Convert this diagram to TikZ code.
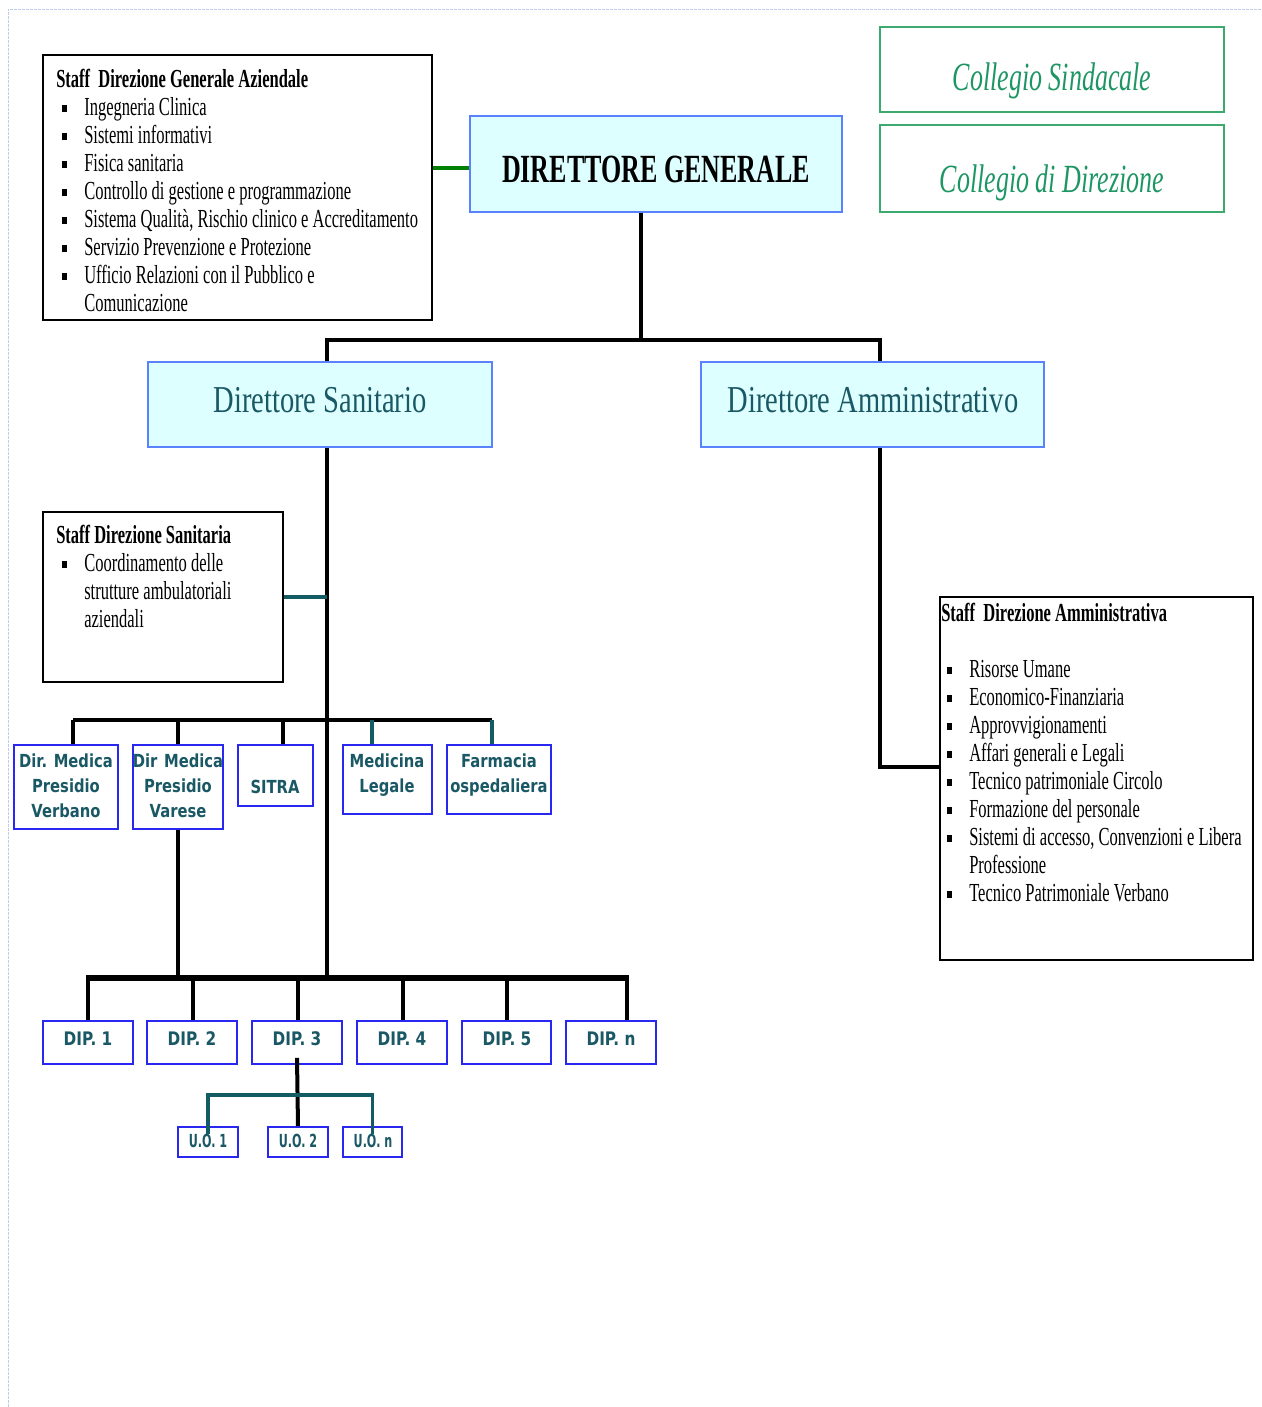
\documentclass[tikz,border=0pt]{standalone}
\usepackage{fontspec}
\setmainfont{Liberation Serif}
\newfontfamily\tms[FakeStretch=0.65]{Liberation Serif}
\newfontfamily\tmss[FakeStretch=0.635]{Liberation Serif}
\newfontfamily\tmsb[FakeStretch=0.75]{Liberation Serif}
\newfontfamily\vrd[FakeStretch=0.82]{DejaVu Sans}
\newfontfamily\vrdn[FakeStretch=0.62]{DejaVu Sans}
\usetikzlibrary{fit,calc}
\definecolor{bboxc}{RGB}{90,130,255}
\definecolor{sboxc}{RGB}{40,40,240}
\definecolor{cyanfill}{RGB}{222,255,255}
\definecolor{tealtxt}{RGB}{25,88,100}
\definecolor{tealline}{RGB}{20,92,100}
\definecolor{gborder}{RGB}{60,170,110}
\definecolor{gtext}{RGB}{30,150,100}
\definecolor{gline}{RGB}{0,128,0}
\definecolor{framec}{RGB}{190,205,235}
\newcommand\nsp{\frenchspacing\spaceskip=0pt\xspaceskip=0pt\relax}
\newcommand\bitem[1]{\par\hangindent=21pt\hangafter=1\noindent\makebox[21pt][l]{\hspace{4.5pt}\rule[2.2pt]{3.5pt}{5.5pt}}#1}
\tikzset{
 blk/.style={line width=3pt, black},
 blkthick/.style={line width=4.5pt, black},
 tealc/.style={line width=2.4pt, tealline},
 gconn/.style={line width=3pt, gline},
 staffbox/.style={draw=black, line width=1.2pt, inner sep=0pt, fill=white},
 cyanbox/.style={draw=bboxc, line width=1.5pt, fill=cyanfill, inner sep=0pt},
 greenbox/.style={draw=gborder, line width=1.5pt, inner sep=0pt},
 bluebox/.style={draw=sboxc, line width=1.3pt, fill=white, inner sep=0pt},
 stafftext/.style={anchor=base west, inner sep=0pt, text width=330pt, align=left, font=\fontsize{19.5}{21}\tmss},
 smalltxt/.style={anchor=base, inner sep=0pt, text width=100pt, align=center, font=\fontsize{13.5}{19}\vrd\bfseries, text=tealtxt},
 diptxt/.style={anchor=base, inner sep=0pt, font=\fontsize{14}{16}\vrd\bfseries, text=tealtxt},
 uotxt/.style={anchor=base, inner sep=0pt, font=\fontsize{13.5}{16}\vrdn\bfseries, text=tealtxt},
}
\begin{document}
\begin{tikzpicture}[x=0.75pt, y=-0.75pt]
\useasboundingbox (0,0) rectangle (1261,1407);
\draw[framec, line width=0.6pt, dash pattern=on 2pt off 1pt] (8,1407) -- (8,9) -- (1261,9);

% boxes
\node[staffbox, fit={(43,55) (432,320)}] (sdg) {};
\node[cyanbox, fit={(470,116) (842,212)}] (dg) {};
\node[greenbox, fit={(880,27) (1224,112)}] (cs) {};
\node[greenbox, fit={(880,125) (1224,212)}] (cd) {};
\node[cyanbox, fit={(148,362) (492,447)}] (ds) {};
\node[cyanbox, fit={(701,362) (1044,447)}] (da) {};
\node[staffbox, fit={(43,512) (283,682)}] (sds) {};
\node[staffbox, fit={(940,597) (1253,960)}] (sda) {};
\node[bluebox, fit={(14,745) (118,829)}] (verb) {};
\node[bluebox, fit={(133,745) (223,829)}] (vare) {};
\node[bluebox, fit={(238,745) (313,806)}] (sitra) {};
\node[bluebox, fit={(343,745) (432,814)}] (medl) {};
\node[bluebox, fit={(447,745) (551,814)}] (farm) {};
\node[bluebox, fit={(43,1021) (133,1064)}] (dip1) {};
\node[bluebox, fit={(147,1021) (237,1064)}] (dip2) {};
\node[bluebox, fit={(252,1021) (342,1064)}] (dip3) {};
\node[bluebox, fit={(357,1021) (447,1064)}] (dip4) {};
\node[bluebox, fit={(462,1021) (551,1064)}] (dip5) {};
\node[bluebox, fit={(566,1021) (656,1064)}] (dipn) {};
\node[bluebox, fit={(178,1127) (238,1157)}] (uo1) {};
\node[bluebox, fit={(268,1127) (328,1157)}] (uo2) {};
\node[bluebox, fit={(343,1127) (402,1157)}] (uon) {};

% texts
\node[stafftext] (sdgt) at (56,87) {\nsp\textbf{Staff\ \ Direzione Generale Aziendale}
\bitem{Ingegneria Clinica}
\bitem{Sistemi informativi}
\bitem{Fisica sanitaria}
\bitem{Controllo di gestione e programmazione}
\bitem{Sistema Qualità, Rischio clinico e Accreditamento}
\bitem{Servizio Prevenzione e Protezione}
\bitem{Ufficio Relazioni con il Pubblico e\newline Comunicazione}\par};
\node[anchor=base, inner sep=0pt, font=\fontsize{30}{36}\tms\bfseries] (dgt) at (656,182) {DIRETTORE GENERALE};
\node[anchor=base, inner sep=0pt, font=\fontsize{30}{36}\tms\itshape, text=gtext] (cst) at (1052,90) {Collegio Sindacale};
\node[anchor=base, inner sep=0pt, font=\fontsize{30}{36}\tms\itshape, text=gtext] (cdt) at (1052,192) {Collegio di Direzione};
\node[anchor=base, inner sep=0pt, font=\fontsize{28.5}{34}\tmsb, text=tealtxt] (dst) at (320,412) {Direttore Sanitario};
\node[anchor=base, inner sep=0pt, font=\fontsize{28.5}{34}\tmsb, text=tealtxt] (dat) at (873,412) {Direttore Amministrativo};
\node[stafftext, text width=170pt] (sdst) at (56,543) {\nsp\textbf{Staff Direzione Sanitaria}
\bitem{Coordinamento delle\newline strutture ambulatoriali\newline aziendali}\par};
\node[stafftext, text width=240pt] (sdat) at (941,621) {\nsp\textbf{Staff\ \ Direzione Amministrativa}\par\mbox{}
\bitem{Risorse Umane}
\bitem{Economico-Finanziaria}
\bitem{Approvvigionamenti}
\bitem{Affari generali e Legali}
\bitem{Tecnico patrimoniale Circolo}
\bitem{Formazione del personale}
\bitem{Sistemi di accesso, Convenzioni e Libera\newline Professione}
\bitem{Tecnico Patrimoniale Verbano}\par};
\node[smalltxt] (verbt) at (66,767) {\nsp Dir. Medica\\Presidio\\Verbano};
\node[smalltxt] (varet) at (178,767) {\nsp Dir Medica\\Presidio\\Varese};
\node[smalltxt] (sitrat) at (275,793) {SITRA};
\node[smalltxt] (medlt) at (387,767) {Medicina\\Legale};
\node[smalltxt] (farmt) at (499,767) {Farmacia\\ospedaliera};
\node[diptxt] (dip1t) at (88,1045) {DIP. 1};
\node[diptxt] (dip2t) at (192,1045) {DIP. 2};
\node[diptxt] (dip3t) at (297,1045) {DIP. 3};
\node[diptxt] (dip4t) at (402,1045) {DIP. 4};
\node[diptxt] (dip5t) at (507,1045) {DIP. 5};
\node[diptxt] (dipnt) at (611,1045) {DIP. n};
\node[uotxt] (uo1t) at (208,1147) {U.O. 1};
\node[uotxt] (uo2t) at (298,1147) {U.O. 2};
\node[uotxt] (uont) at (373,1147) {U.O. n};

% coordinates
\coordinate (j1) at (641,340);
\coordinate (xs) at (327,340);
\coordinate (xa) at (880,340);
\coordinate (ya) at (0,767);
\coordinate (yg) at (0,168);
\coordinate (m1) at (73,720);
\coordinate (m2) at (178,720);
\coordinate (m3) at (283,720);
\coordinate (m4) at (372,720);
\coordinate (m5) at (492,720);
\coordinate (d1) at (88,978);
\coordinate (d2) at (193,978);
\coordinate (d3) at (298,978);
\coordinate (d4) at (403,978);
\coordinate (d5) at (507,978);
\coordinate (d6) at (627,978);
\coordinate (ub) at (0,1095);

% connectors
\draw[gconn] (dg.west |- yg) -- (sdg.east |- yg);
\draw[blk] (dg.south -| j1) -- (j1);
\draw[blk] (ds.north -| xs) -- (xs) -- (xa) -- (da.north -| xa);
\draw[blk] (ds.south -| xs) -- (xs |- d1);
\draw[tealc] (sds.east) -- (sds.east -| xs);
\draw[blk] (da.south -| xa) |- (sda.west |- ya);
\draw[blk] (m1) -- (m5);
\draw[blk] (m1) -- (verb.north -| m1);
\draw[blk] (m2) -- (vare.north -| m2);
\draw[blk] (m3) -- (sitra.north -| m3);
\draw[tealc] (m4) -- (medl.north -| m4);
\draw[tealc] (m5) -- (farm.north -| m5);
\draw[blk] (vare.south -| m2) -- (m2 |- d1);
\draw[blkthick] ($(d1)+(-2,0)$) -- ($(d6)+(2,0)$);
\draw[blk] (d1) -- (dip1.north -| d1);
\draw[blk] (d2) -- (dip2.north -| d2);
\draw[blk] (d3) -- (dip3.north -| d3);
\draw[blk] (d4) -- (dip4.north -| d4);
\draw[blk] (d5) -- (dip5.north -| d5);
\draw[blk] (d6) -- (dipn.north -| d6);
\draw[blk] ($(dip3.south)+(0,-7)$) -- (uo2.north);
\draw[tealc] ($(uo1.north)+(0,8)$) -- (uo1.north |- ub) -- (uon.north |- ub) -- ($(uon.north)+(0,8)$);
\end{tikzpicture}
\end{document}
